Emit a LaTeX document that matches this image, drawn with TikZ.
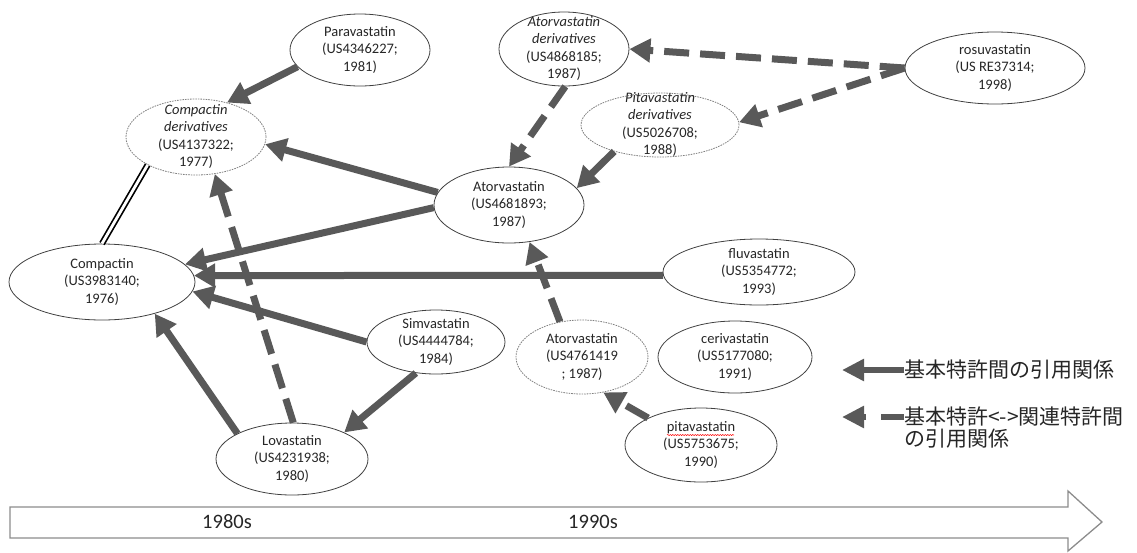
\documentclass[tikz,border=0pt]{standalone}
\usepackage{fontspec}
\setmainfont{Carlito}
\newfontfamily\jpfont{Noto Sans CJK JP}
\usetikzlibrary{shapes.geometric,arrows.meta,calc,decorations.pathmorphing}
\definecolor{citegray}{HTML}{595959}
\definecolor{rimgray}{HTML}{404040}
\definecolor{axisgray}{HTML}{8C8C8C}
\newcommand{\pat}[1]{\smash{\raisebox{-3.6pt}{\begin{tabular}{@{}c@{}}#1\end{tabular}}}}

\begin{document}
\begin{tikzpicture}[x=1pt,y=-1pt,
  every node/.style = {font=\fontsize{14.5}{17.5}\selectfont, text=black!85},
  patent/.style = {shape=ellipse, draw=rimgray, line width=0.8pt, inner sep=0pt},
  related/.style = {patent, draw=gray, dash pattern=on 1.6pt off 1pt},
  basecite/.style = {draw=citegray, line width=7pt,
    -{Triangle[length=21pt,width=23pt]}},
  relcite/.style = {basecite, dash pattern=on 25pt off 11pt},
  legbase/.style = {draw=citegray, line width=6pt,
    -{Triangle[length=22pt,width=21pt]}},
  legrel/.style = {legbase, dash pattern=on 23pt off 15pt},
  decade/.style = {font=\fontsize{20.5}{24}\selectfont},
  legtext/.style = {font=\jpfont\fontsize{21}{22}\selectfont,
    anchor=west, align=left, inner sep=0pt}]
  \useasboundingbox (0,0) rectangle (1137,552);

  % time axis
  \draw[axisgray, line width=1.3pt] (10,507) -- (1068,507) -- (1068,491)
    -- (1102,522) -- (1068,551) -- (1068,538) -- (10,538) -- cycle;
  \node[decade] (dec80) at (227,522) {1980s};
  \node[decade] (dec90) at (593,522) {1990s};

  % patents
  \node[patent, minimum width=140pt, minimum height=72pt] (para) at (360,50)
    {\pat{Paravastatin\\(US4346227;\\1981)}};
  \node[related, minimum width=140pt, minimum height=76pt] (cder) at (196,137)
    {\pat{\textit{Compactin}\\\textit{derivatives}\\(US4137322;\\1977)}};
  \node[patent, minimum width=186pt, minimum height=76pt] (comp) at (102,282)
    {\pat{Compactin\\(US3983140;\\1976)}};
  \node[patent, minimum width=130pt, minimum height=74pt] (ader) at (564,49)
    {\pat{\textit{Atorvastatin}\\\textit{derivatives}\\(US4868185;\\1987)}};
  \node[related, minimum width=158pt, minimum height=64pt] (pder) at (660,125)
    {\pat{\textit{Pitavastatin}\\\textit{derivatives}\\(US5026708;\\1988)}};
  \node[patent, minimum width=180pt, minimum height=72pt] (rosu) at (995,68)
    {\pat{rosuvastatin\\(US RE37314;\\1998)}};
  \node[patent, minimum width=150pt, minimum height=76pt] (atorva) at (509,205)
    {\pat{Atorvastatin\\(US4681893;\\1987)}};
  \node[patent, minimum width=192pt, minimum height=66pt] (fluva) at (759,272)
    {\pat{fluvastatin\\(US5354772;\\1993)}};
  \node[patent, minimum width=138pt, minimum height=64pt] (simva) at (436,342)
    {\pat{Simvastatin\\(US4444784;\\1984)}};
  \node[related, minimum width=132pt, minimum height=74pt] (ator2) at (582,357)
    {\pat{Atorvastatin\\(US4761419\\; 1987)}};
  \node[patent, minimum width=154pt, minimum height=72pt] (ceri) at (735,357)
    {\pat{cerivastatin\\(US5177080;\\1991)}};
  \node[patent, minimum width=152pt, minimum height=74pt] (pita) at (701,445)
    {\pat{pitavastatin\\(US5753675;\\1990)}};
  \node[patent, minimum width=152pt, minimum height=72pt] (lova) at (292,459)
    {\pat{Lovastatin\\(US4231938;\\1980)}};
  \draw[red, line width=0.5pt, decorate,
    decoration={snake, amplitude=0.6pt, segment length=2.5pt}]
    ($(pita.center)+(-34,-10)$) -- ($(pita.center)+(33,-10)$);

  % citations
  \draw[double=white, double distance=2.8pt, line width=1.7pt] (cder.210) -- (comp.north);
  \draw[basecite] (para.195) -- (cder.48);
  \draw[basecite] (atorva.170) -- (cder.354);
  \draw[basecite] (atorva.182) -- (comp.12);
  \draw[basecite] (fluva.182) -- (comp.4);
  \draw[basecite] (simva.180) -- (comp.354);
  \draw[basecite] (simva.237) -- (lova.27);
  \draw[basecite] (lova.155) -- (comp.329);
  \draw[basecite] (pder.210) -- (atorva.14);
  \draw[relcite] (lova.88) -- (cder.297);
  \draw[relcite] (ader.272) -- (atorva.90);
  \draw[relcite] (rosu.180) -- (ader.0);
  \draw[relcite] (rosu.180) -- (pder.2);
  \draw[relcite] (ator2.122) -- (atorva.299);
  \draw[relcite] (pita.153) -- (ator2.301);

  % legend
  \node[legtext] (leg1) at (904,370) {基本特許間の引用関係};
  \node[legtext] (leg2) at (904,427.5) {基本特許<->関連特許間\\の引用関係};
  \coordinate (leg1tip) at (842,370);
  \coordinate (leg2tip) at (842,417);
  \draw[legbase] (leg1.west) -- (leg1tip);
  \draw[legrel] ([yshift=10.5pt]leg2.west) -- (leg2tip);
\end{tikzpicture}
\end{document}
